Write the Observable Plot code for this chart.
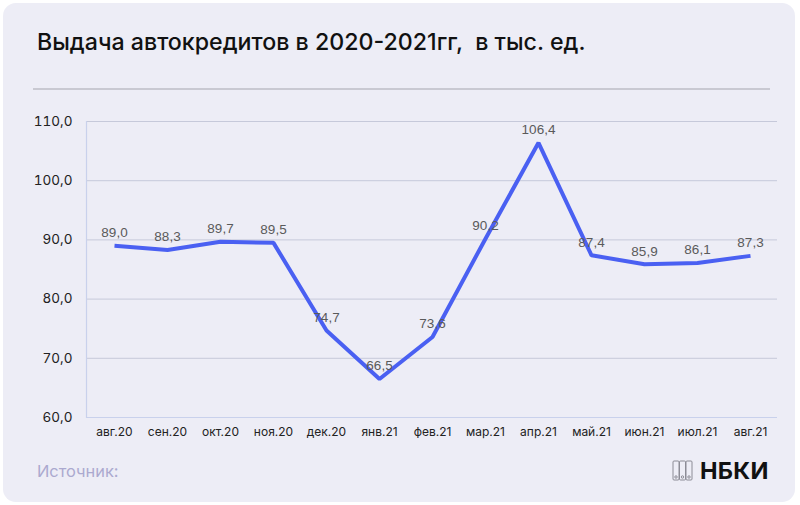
<!DOCTYPE html>
<html>
<head>
<meta charset="utf-8">
<script src="https://cdn.jsdelivr.net/npm/d3@7"></script>
<script src="https://cdn.jsdelivr.net/npm/@observablehq/plot@0.6"></script>
<style>
  html, body { margin: 0; padding: 0; background: #ffffff; }
  #wrap { position: relative; width: 800px; height: 505px; overflow: hidden; font-family: Inter, "Noto Sans", sans-serif; }
  #card { position: absolute; left: 3px; top: 3px; width: 792px; height: 499px; background: #EDEDF6; border-radius: 13px; }
  #title { position: absolute; left: 37px; top: 27px; font-size: 23.2px; line-height: 30px; font-weight: 500; color: #111; white-space: pre; }
  #sep { position: absolute; left: 33px; top: 88px; width: 737px; height: 1.5px; background: #C9C9D2; }
  #chart { position: absolute; left: 0; top: 100px; }
  #source { position: absolute; left: 37px; top: 461px; font-size: 16.4px; color: #ABA9CF; }
  #logo { position: absolute; left: 672px; top: 456px; display: flex; align-items: center; }
  #logo span { font-size: 23.5px; font-weight: 700; color: #111; margin-left: 7px; letter-spacing: 0.3px; }
</style>
</head>
<body>
<div id="wrap">
  <div id="card"></div>
  <div id="title">Выдача автокредитов в 2020-2021гг,  в тыс. ед.</div>
  <div id="sep"></div>
  <div id="chart"></div>
  <div id="source">Источник:</div>
  <div id="logo">
    <svg width="21" height="21" viewBox="0 0 21 21">
      <g fill="none" stroke="#8C8C96" stroke-width="1">
        <rect x="1" y="1" width="6" height="19" rx="1"/>
        <rect x="7.5" y="1" width="6" height="19" rx="1"/>
        <rect x="14" y="1" width="6" height="19" rx="1"/>
        <circle cx="4" cy="17" r="1.2"/>
        <circle cx="10.5" cy="17" r="1.2"/>
        <circle cx="17" cy="17" r="1.2"/>
      </g>
    </svg>
    <span>НБКИ</span>
  </div>
</div>
<script>
const months = ["авг.20","сен.20","окт.20","ноя.20","дек.20","янв.21","фев.21","мар.21","апр.21","май.21","июн.21","июл.21","авг.21"];
const values = [89.0, 88.3, 89.7, 89.5, 74.7, 66.5, 73.6, 90.2, 106.4, 87.4, 85.9, 86.1, 87.3];
const yTicks = [60, 70, 80, 90, 100, 110];
const gridTicks = [70, 80, 90, 100, 110];

const data = months.map((m, i) => ({month: m, value: values[i]}));
const fmt = v => d3.format(".1f")(v).replace(".", ",");

const chart = Plot.plot({
  width: 800,
  height: 345,
  marginLeft: 86,
  marginRight: 23,
  marginTop: 21,
  marginBottom: 28,
  style: {background: "transparent", overflow: "visible"},
  x: {type: "point", domain: months, padding: 0.5, label: null},
  y: {domain: [60, 110], label: null},
  marks: [
    Plot.ruleY(gridTicks, {stroke: "#C6C9DA", strokeWidth: 1}),
    Plot.ruleY([60], {stroke: "#C9D1EC", strokeWidth: 1.2}),
    Plot.frame({anchor: "left", stroke: "#C9D1EC", strokeWidth: 1.2}),
    Plot.axisY({ticks: yTicks, tickFormat: fmt, tickSize: 0, tickPadding: 14, fontSize: 13.5, fill: "#222", fontFamily: "Inter, sans-serif", label: null}),
    Plot.axisX({tickSize: 0, tickPadding: 10, fontSize: 12, fill: "#222", fontFamily: "Inter, sans-serif", label: null}),
    Plot.line(data, {x: "month", y: "value", stroke: "#4A60F2", strokeWidth: 4, strokeLinejoin: "miter", strokeLinecap: "butt"}),
    Plot.text(data, {x: "month", y: "value", text: d => fmt(d.value), dy: -13, fill: "#5A5A5A", fontSize: 13.5, fontFamily: "Liberation Sans, Arial, sans-serif"})
  ]
});
document.getElementById("chart").appendChild(chart);
</script>
</body>
</html>
